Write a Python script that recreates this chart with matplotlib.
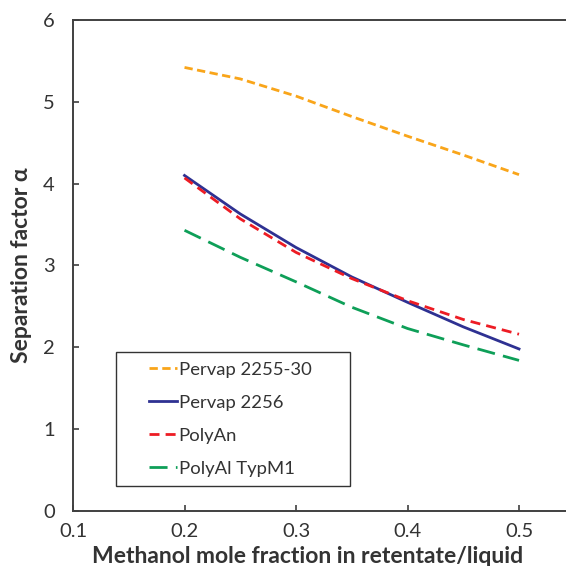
import matplotlib
matplotlib.use('Agg')
import matplotlib.pyplot as plt
from matplotlib.lines import Line2D
from matplotlib.legend_handler import HandlerLine2D

plt.rcParams['font.family'] = ['Lato', 'DejaVu Sans']

x = [0.2, 0.25, 0.3, 0.35, 0.4, 0.45, 0.5]
pervap_2255 = [5.42, 5.28, 5.07, 4.82, 4.58, 4.35, 4.11]
pervap_2256 = [4.10, 3.63, 3.22, 2.86, 2.55, 2.25, 1.98]
polyan = [4.07, 3.57, 3.16, 2.84, 2.57, 2.34, 2.16]
polyal = [3.43, 3.10, 2.80, 2.49, 2.23, 2.03, 1.84]

labels = ['Pervap 2255-30', 'Pervap 2256', 'PolyAn', 'PolyAl TypM1']
xticks = [0.1, 0.2, 0.3, 0.4, 0.5]
yticks = [0, 1, 2, 3, 4, 5, 6]

fig = plt.figure(figsize=(5.66, 5.66), dpi=100)
ax = fig.add_axes([0.129, 0.0972, 0.985, 0.8675])

ax.plot(x, pervap_2255, color='#F9A51A', lw=2.0, dashes=(3, 1.6), label=labels[0])
ax.plot(x, pervap_2256, color='#2E3192', lw=2.0, label=labels[1])
ax.plot(x, polyan, color='#ED1C24', lw=2.0, dashes=(3.6, 2.2), label=labels[2])
ax.plot(x, polyal, color='#0E9F58', lw=2.0, dashes=(6.5, 3), label=labels[3])

ax.set_xlim(0.1, 0.6)
ax.set_ylim(0, 6)
ax.set_xticks(xticks)
ax.set_xticklabels([str(t) for t in xticks])
ax.set_yticks(yticks)
ax.tick_params(direction='in', length=4, width=1.2, labelsize=14.5, colors='#404040',
               labelcolor='#333333')
ax.tick_params(axis='y', pad=13)
ax.tick_params(axis='x', pad=9)
for s in ax.spines.values():
    s.set_linewidth(1.4)
    s.set_color('#404040')

ax.set_xlabel('Methanol mole fraction in retentate/liquid', fontsize=16.5,
              fontweight='bold', color='#333333')
ax.set_ylabel('Separation factor α', fontsize=16.5, fontweight='bold',
              color='#333333')
ax.xaxis.set_label_coords(0.42, -0.072)
ax.yaxis.set_label_coords(-0.074, 0.5)

leg = ax.legend(loc='lower left', bbox_to_anchor=(0.077, 0.051, 0.42, 0.277),
                mode='expand', fontsize=13.3, frameon=True, fancybox=False,
                edgecolor='black', handlelength=2.8, handletextpad=0.1,
                labelspacing=0.92, borderpad=0.5, borderaxespad=0,
                handler_map={Line2D: HandlerLine2D(xpad=1.3)})
leg.get_frame().set_linewidth(1.0)
for t in leg.get_texts():
    t.set_color('#333333')

fig.savefig('out.png', dpi=100)
